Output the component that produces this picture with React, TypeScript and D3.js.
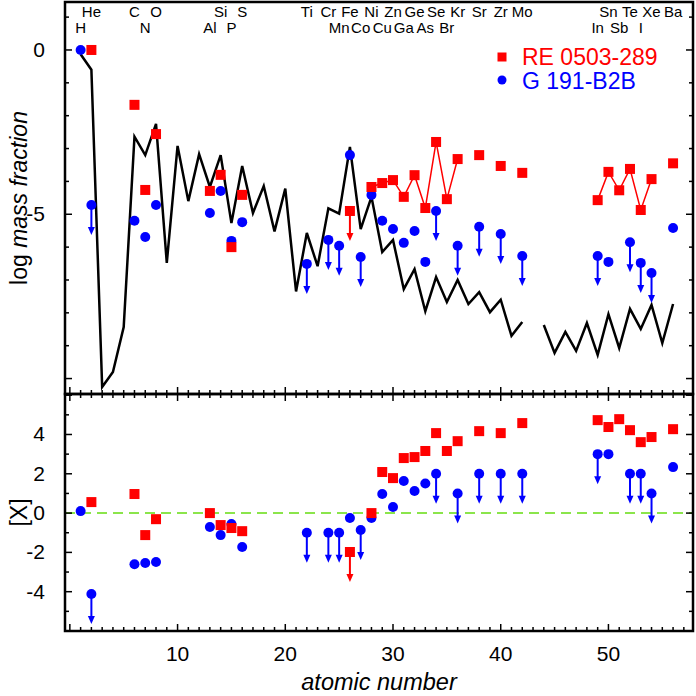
import React from 'react';
import * as d3 from 'd3';

// Solar (black line) log mass fraction, Z = 1..56 (null = missing)
const SOLAR_Z = d3.range(1, 57);
const SOLAR_LOG: (number | null)[] = [
  -0.13, -0.6, -10.26, -9.8, -8.43, -2.64, -3.2, -2.25, -6.48, -2.92,
  -4.6, -3.17, -4.17, -3.2, -5.27, -3.53, -4.96, -4.14, -5.52, -4.22,
  -7.35, -5.57, -6.58, -4.82, -4.98, -2.95, -5.45, -4.47, -6.15, -5.78,
  -7.28, -6.67, -7.95, -6.91, -7.67, -7.0, -7.73, -7.37, -7.98, -7.6,
  -8.7, -8.28, null, -8.37, -9.22, -8.58, -9.16, -8.31, -9.28, -8.04,
  -9.07, -7.88, -8.49, -7.76, -8.92, -7.73,
];

// RE 0503-289
const RE_Z = [2, 6, 7, 8, 13, 14, 15, 16, 26, 28, 29, 30, 31, 32, 33, 34, 35, 36, 38, 40, 42, 49, 50, 51, 52, 53, 54, 56];
const RE_LOG = [0, -1.67, -4.26, -2.56, -4.29, -3.8, -6.0, -4.41, -4.9, -4.17, -4.05, -3.96, -4.47, -3.81, -4.81, -2.8, -4.54, -3.32, -3.2, -3.53, -3.74, -4.57, -3.71, -4.27, -3.62, -4.87, -3.93, -3.45];
const RE_X = [0.56, 0.97, -1.12, -0.31, 0, -0.61, -0.76, -0.92, -1.98, 0, 2.09, 1.78, 2.8, 2.85, 3.16, 4.07, 3.16, 3.66, 4.17, 4.07, 4.58, 4.73, 4.38, 4.78, 4.22, 3.61, 3.87, 4.27];
const RE_UPPER_LIMIT_Z = [26];
const RE_LINE_GROUPS = [[28, 36], [49, 54]];

// G 191-B2B
const G_Z = [1, 2, 6, 7, 8, 13, 14, 15, 16, 22, 24, 25, 26, 27, 28, 29, 30, 31, 32, 33, 34, 36, 38, 40, 42, 49, 50, 52, 53, 54, 56];
const G_LOG = [0, -4.72, -5.2, -5.69, -4.72, -4.96, -4.29, -5.81, -5.24, -6.51, -5.78, -5.96, -3.2, -6.3, -4.41, -5.2, -5.45, -5.87, -5.51, -6.45, -4.9, -5.96, -5.38, -5.6, -6.27, -6.27, -6.45, -5.85, -6.48, -6.79, -5.42];
const G_X = [0.1, -4.12, -2.6, -2.54, -2.49, -0.71, -1.12, -0.56, -1.73, -1.0, -1.0, -1.0, -0.25, -0.86, -0.25, 0.97, 0.31, 1.63, 1.12, 1.51, 2.0, 1.0, 2.0, 2.0, 2.0, 3.0, 3.0, 2.0, 2.0, 1.0, 2.34];
const G_UPPER_LIMIT_Z = [2, 22, 24, 25, 27, 34, 36, 38, 40, 42, 49, 52, 53, 54];

// Element labels
const LABEL_Z = [1, 2, 6, 7, 8, 13, 14, 15, 16, 22, 24, 25, 26, 27, 28, 29, 30, 31, 32, 33, 34, 35, 36, 38, 40, 42, 49, 50, 51, 52, 53, 54, 56];
const LABEL_SYM = ['H', 'He', 'C', 'N', 'O', 'Al', 'Si', 'P', 'S', 'Ti', 'Cr', 'Mn', 'Fe', 'Co', 'Ni', 'Cu', 'Zn', 'Ga', 'Ge', 'As', 'Se', 'Br', 'Kr', 'Sr', 'Zr', 'Mo', 'In', 'Sn', 'Sb', 'Te', 'I', 'Xe', 'Ba'];

const X_TICKS = [10, 20, 30, 40, 50];
const UP_TICKS = [0, -5];
const LOW_TICKS = [4, 2, 0, -2, -4];

const RED = '#ff0000';
const BLUE = '#0000ff';
const FONT = '"Liberation Sans", Arial, Helvetica, sans-serif';

const L = 65, R = 693, TOP = 2, MID = 394, BOT = 631;

export default function App() {
  const x = d3.scaleLinear().domain([-0.45, 57.85]).range([L, R]);
  const yU = d3.scaleLinear().domain([-10.47, 1.46]).range([MID, TOP]);
  const yL = d3.scaleLinear().domain([-6, 6.06]).range([BOT, MID]);

  const solarData = SOLAR_Z.map((z, i) => ({ z, v: SOLAR_LOG[i] }));
  const solarLine = d3.line<{ z: number; v: number | null }>()
    .defined(d => d.v !== null)
    .x(d => x(d.z))
    .y(d => yU(d.v as number));

  const reLine = d3.line<number>().x(i => x(RE_Z[i])).y(i => yU(RE_LOG[i]));
  const reGroups = RE_LINE_GROUPS.map(([a, b]) =>
    RE_Z.map((z, i) => (z >= a && z <= b ? i : -1)).filter(i => i >= 0)
  );

  const arrowLen = 30;
  const arrow = (cx: number, cy: number, color: string, key: string) => (
    <g key={key}>
      <line x1={cx} y1={cy} x2={cx} y2={cy + arrowLen - 6} stroke={color} strokeWidth={2} />
      <path d={`M${cx - 3.5},${cy + arrowLen - 8} L${cx + 3.5},${cy + arrowLen - 8} L${cx},${cy + arrowLen} Z`} fill={color} />
    </g>
  );

  const sq = 10;
  const circleR = 5;

  const intTicks = d3.range(0, 58);

  const xTickMarks = (yBase: number, dir: number, keyp: string) =>
    intTicks.map(t => (
      <line key={keyp + t} x1={x(t)} x2={x(t)} y1={yBase} y2={yBase + dir * (t % 10 === 0 ? 7 : 4)} stroke="#000" strokeWidth={1.5} />
    ));

  const yTickMarks = (scale: d3.ScaleLinear<number, number>, vals: number[], isMajor: (v: number) => boolean, keyp: string) =>
    vals.flatMap(v => [
      <line key={keyp + 'l' + v} x1={L} x2={L + (isMajor(v) ? 7 : 4)} y1={scale(v)} y2={scale(v)} stroke="#000" strokeWidth={1.5} />,
      <line key={keyp + 'r' + v} x1={R} x2={R - (isMajor(v) ? 7 : 4)} y1={scale(v)} y2={scale(v)} stroke="#000" strokeWidth={1.5} />,
    ]);

  return (
    <svg width={696} height={696} style={{ display: 'block', position: 'absolute', left: 0, top: 0, background: '#fff' }} fontFamily={FONT}>
      <rect x={0} y={0} width={696} height={696} fill="#fff" />

      {/* element labels */}
      {LABEL_Z.map((z, i) => (
        <text key={'lab' + z} x={x(z)} y={z % 2 === 0 ? 17 : 33} fontSize={15} textAnchor="middle" fill="#000">
          {LABEL_SYM[i]}
        </text>
      ))}

      {/* ===== Upper panel ===== */}
      <path d={solarLine(solarData as any) || ''} fill="none" stroke="#000" strokeWidth={2.5} strokeLinejoin="miter" />
      {reGroups.map((g, k) => (
        <path key={'reg' + k} d={reLine(g) || ''} fill="none" stroke={RED} strokeWidth={1.5} />
      ))}
      {G_Z.map((z, i) =>
        G_UPPER_LIMIT_Z.includes(z) ? arrow(x(z), yU(G_LOG[i]), BLUE, 'gua' + z) : null
      )}
      {G_Z.map((z, i) => (
        <circle key={'gu' + z} cx={x(z)} cy={yU(G_LOG[i])} r={circleR} fill={BLUE} />
      ))}
      {RE_Z.map((z, i) =>
        RE_UPPER_LIMIT_Z.includes(z) ? arrow(x(z), yU(RE_LOG[i]), RED, 'rua' + z) : null
      )}
      {RE_Z.map((z, i) => (
        <rect key={'ru' + z} x={x(z) - sq / 2} y={yU(RE_LOG[i]) - sq / 2} width={sq} height={sq} fill={RED} />
      ))}

      {/* legend */}
      <rect x={502 - 4.5} y={57 - 4.5} width={9} height={9} fill={RED} />
      <text x={522} y={65} fontSize={23} fill={RED}>RE 0503-289</text>
      <circle cx={502} cy={80} r={4.5} fill={BLUE} />
      <text x={522} y={89} fontSize={23} fill={BLUE}>G 191-B2B</text>

      {/* ===== Lower panel ===== */}
      <line x1={L} x2={R} y1={yL(0)} y2={yL(0)} stroke="#66dd11" strokeWidth={1.5} strokeDasharray="10,6" />
      {G_Z.map((z, i) =>
        G_UPPER_LIMIT_Z.includes(z) ? arrow(x(z), yL(G_X[i]), BLUE, 'gla' + z) : null
      )}
      {G_Z.map((z, i) => (
        <circle key={'gl' + z} cx={x(z)} cy={yL(G_X[i])} r={circleR} fill={BLUE} />
      ))}
      {RE_Z.map((z, i) =>
        RE_UPPER_LIMIT_Z.includes(z) ? arrow(x(z), yL(RE_X[i]), RED, 'rla' + z) : null
      )}
      {RE_Z.map((z, i) => (
        <rect key={'rl' + z} x={x(z) - sq / 2} y={yL(RE_X[i]) - sq / 2} width={sq} height={sq} fill={RED} />
      ))}

      {/* ticks */}
      {xTickMarks(MID, -1, 'xu')}
      {xTickMarks(MID, 1, 'xlt')}
      {xTickMarks(BOT, -1, 'xlb')}
      {yTickMarks(yU, d3.range(-10, 2), v => v % 5 === 0, 'yu')}
      {yTickMarks(yL, d3.range(-5, 7), v => v % 2 === 0, 'yl')}

      {/* frames */}
      <rect x={L} y={TOP} width={R - L} height={MID - TOP} fill="none" stroke="#000" strokeWidth={2.5} />
      <rect x={L} y={MID} width={R - L} height={BOT - MID} fill="none" stroke="#000" strokeWidth={2.5} />

      {/* tick labels */}
      {UP_TICKS.map(t => (
        <text key={'ut' + t} x={45} y={yU(t) + 7} fontSize={21} textAnchor="end">{t === 0 ? '0' : '-' + Math.abs(t)}</text>
      ))}
      {LOW_TICKS.map(t => (
        <text key={'lt' + t} x={45} y={yL(t) + 7} fontSize={21} textAnchor="end">{t < 0 ? '-' + Math.abs(t) : String(t)}</text>
      ))}
      {X_TICKS.map(t => (
        <text key={'xt' + t} x={x(t)} y={661} fontSize={21} textAnchor="middle">{t}</text>
      ))}

      {/* axis titles */}
      <text x={x(28.7)} y={690} fontSize={23.5} fontStyle="italic" textAnchor="middle">atomic number</text>
      <text transform={`translate(27,${(TOP + MID) / 2}) rotate(-90)`} fontSize={23} textAnchor="middle">
        log <tspan fontStyle="italic">mass fraction</tspan>
      </text>
      <text transform={`translate(27,${(MID + BOT) / 2}) rotate(-90)`} fontSize={23} textAnchor="middle">[X]</text>
    </svg>
  );
}
